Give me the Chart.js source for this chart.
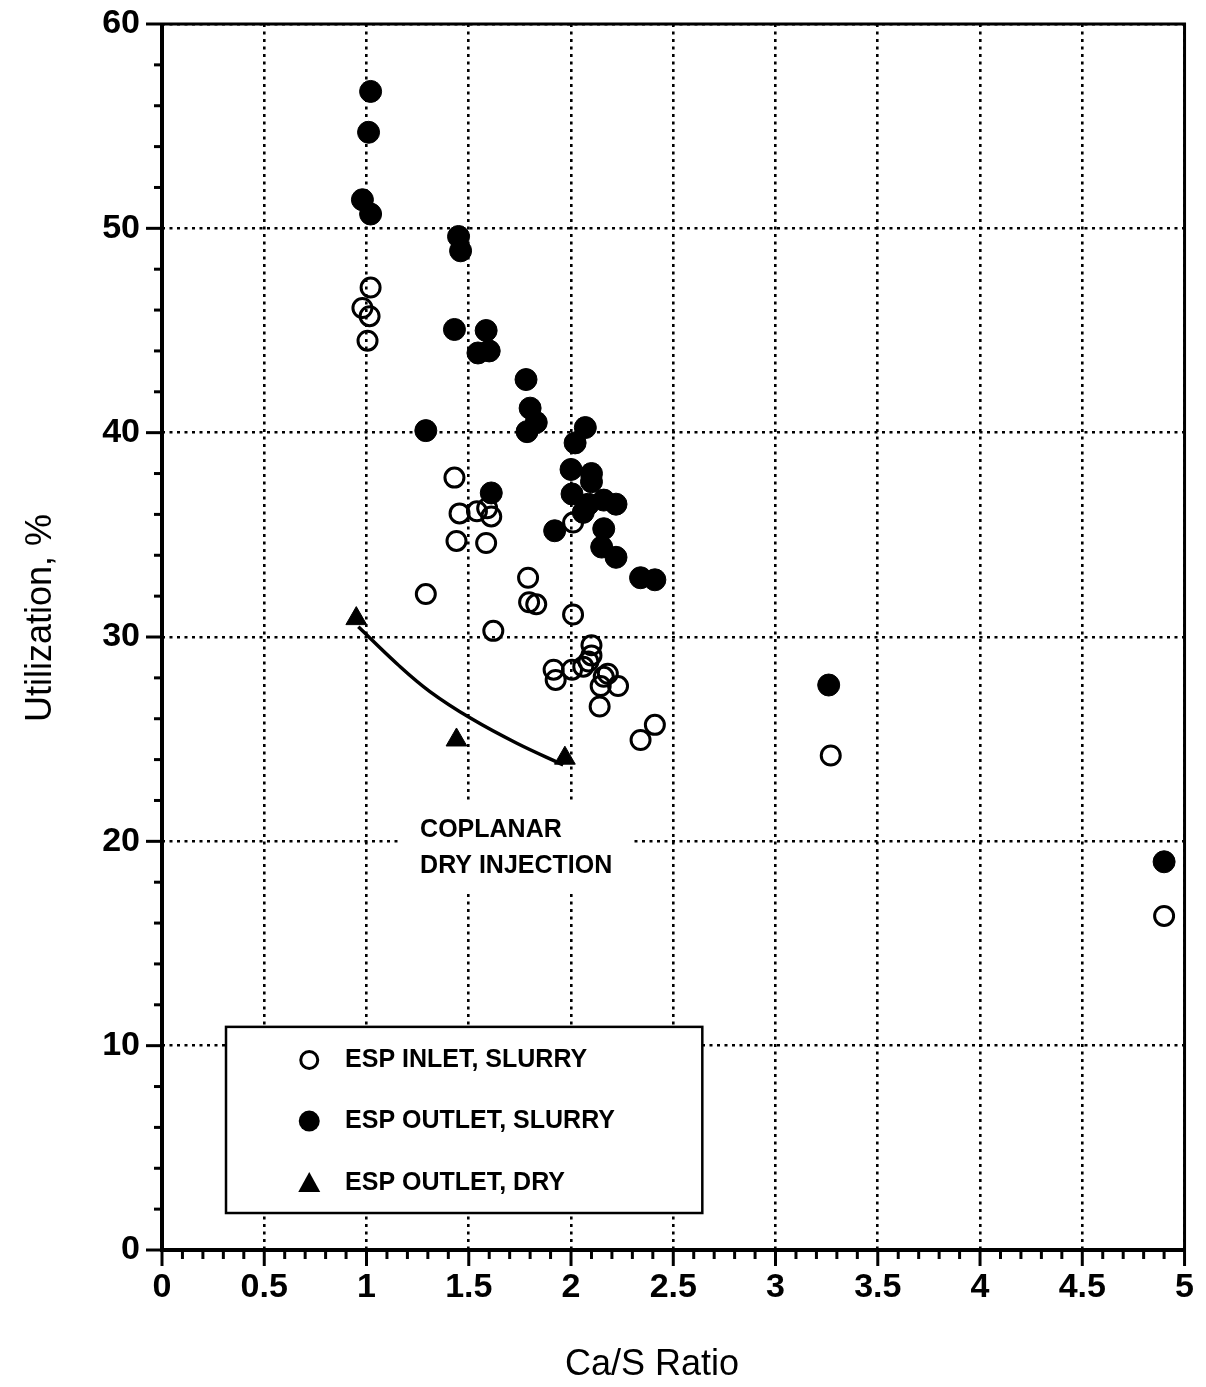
<!DOCTYPE html>
<html>
<head>
<meta charset="utf-8">
<title>Utilization vs Ca/S Ratio</title>
<script src="https://cdn.jsdelivr.net/npm/chart.js@4.4.0/dist/chart.umd.min.js"></script>
<style>
    html, body { margin: 0; padding: 0; background: #fff; }
    #wrap { width: 1206px; height: 1387px; position: relative; }
</style>
</head>
<body>
<div id="wrap"><canvas id="myChart"></canvas></div>
<script>
///////////////////////////////////////////////////////////////////////////
//////////////////////////  DATOS  ////////////////////////////////////////
///////////////////////////////////////////////////////////////////////////

// ESP inlet, slurry (open circles)
const inletX = [1.02, 0.98, 1.015, 1.005, 1.43, 1.455, 1.54, 1.61, 1.59, 1.44, 1.585, 1.29, 1.79, 1.795, 1.83, 2.01, 1.62, 2.01,
    2.10, 2.10, 1.915, 1.925, 2.005, 2.06, 2.085, 2.18, 2.16, 2.145, 2.23, 2.14, 2.41, 2.34, 3.27, 4.90];
const inletY = [47.1, 46.1, 45.7, 44.5, 37.8, 36.05, 36.15, 35.9, 36.3, 34.7, 34.6, 32.1, 32.9, 31.7, 31.6, 31.1, 30.3, 35.6,
    29.6, 29.1, 28.4, 27.9, 28.4, 28.55, 28.8, 28.2, 28.05, 27.6, 27.6, 26.6, 25.7, 24.96, 24.2, 16.35];

// ESP outlet, slurry (filled circles)
const outletX = [1.02, 1.01, 0.98, 1.02, 1.45, 1.46, 1.43, 1.585, 1.545, 1.60, 1.29, 1.78, 1.80, 1.83, 1.785, 1.61, 2.07, 2.02,
    2.00, 2.10, 2.10, 2.005, 2.085, 2.16, 2.22, 2.06, 1.92, 2.16, 2.15, 2.22, 2.34, 2.41, 3.26, 4.90];
const outletY = [56.7, 54.7, 51.4, 50.7, 49.6, 48.9, 45.05, 45.0, 43.9, 44.0, 40.1, 42.6, 41.2, 40.5, 40.05, 37.05, 40.25, 39.5,
    38.2, 38.0, 37.6, 37.0, 36.5, 36.7, 36.5, 36.1, 35.2, 35.3, 34.4, 33.9, 32.9, 32.8, 27.65, 19.0];

// ESP outlet, dry (triangles)
const dryX = [0.95, 1.44, 1.97];
const dryY = [30.9, 24.96, 24.07];

// coplanar dry injection curve
const curveX = [0.96, 1.15, 1.31, 1.51, 1.735, 1.962];
const curveY = [30.5, 28.68, 27.33, 26.02, 24.8, 23.74];

const seriesNames = ['ESP INLET, SLURRY', 'ESP OUTLET, SLURRY', 'ESP OUTLET, DRY'];
const noteLines = ['COPLANAR', 'DRY INJECTION'];
const xTitle = 'Ca/S Ratio';
const yTitle = 'Utilization, %';

function toPoints(xs, ys) {
    return xs.map(function (x, i) { return { x: x, y: ys[i] }; });
}

///////////////////////////////////////////////////////////////////////////
//////////////////////////  PLUGIN (marco, leyenda, texto)  //////////////
///////////////////////////////////////////////////////////////////////////

const frame = {
    id: 'frame',
    beforeDatasetsDraw(chart) {
        const ctx = chart.ctx, x = chart.scales.x, y = chart.scales.y;
        ctx.save();
        ctx.fillStyle = '#fff';
        // blank behind the note text
        ctx.fillRect(x.getPixelForValue(1.165), y.getPixelForValue(22.0),
            x.getPixelForValue(2.30) - x.getPixelForValue(1.165), y.getPixelForValue(17.5) - y.getPixelForValue(22.0));
        // legend box
        ctx.fillRect(x.getPixelForValue(0.313), y.getPixelForValue(10.92),
            x.getPixelForValue(2.642) - x.getPixelForValue(0.313), y.getPixelForValue(1.81) - y.getPixelForValue(10.92));
        ctx.restore();
    },
    afterDraw(chart) {
        const ctx = chart.ctx, x = chart.scales.x, y = chart.scales.y;
        const a = chart.chartArea;
        ctx.save();
        ctx.strokeStyle = '#000';
        ctx.fillStyle = '#000';

        // minor / major ticks
        ctx.lineWidth = 3;
        for (let i = 0; i <= 50; i++) {
            const px = x.getPixelForValue(i / 10);
            const len = (i % 5 === 0) ? 16 : 9;
            ctx.beginPath(); ctx.moveTo(px, a.bottom); ctx.lineTo(px, a.bottom + len); ctx.stroke();
        }
        for (let i = 0; i <= 30; i++) {
            const py = y.getPixelForValue(i * 2);
            const len = (i % 5 === 0) ? 16 : 8;
            ctx.beginPath(); ctx.moveTo(a.left, py); ctx.lineTo(a.left - len, py); ctx.stroke();
        }

        // box
        ctx.lineWidth = 3;
        ctx.beginPath(); ctx.moveTo(a.left, a.top); ctx.lineTo(a.right, a.top); ctx.lineTo(a.right, a.bottom); ctx.stroke();
        ctx.lineWidth = 4;
        ctx.beginPath(); ctx.moveTo(a.left, a.top - 1); ctx.lineTo(a.left, a.bottom); ctx.lineTo(a.right + 1, a.bottom); ctx.stroke();

        // legend
        const lx0 = x.getPixelForValue(0.313), lx1 = x.getPixelForValue(2.642);
        const ly0 = y.getPixelForValue(10.92), ly1 = y.getPixelForValue(1.81);
        ctx.lineWidth = 2.5;
        ctx.strokeRect(lx0, ly0, lx1 - lx0, ly1 - ly0);
        const mx = x.getPixelForValue(0.72), tx = x.getPixelForValue(0.895);
        const rows = [9.3, 6.31, 3.28].map(function (v) { return y.getPixelForValue(v); });
        ctx.lineWidth = 3;
        ctx.beginPath(); ctx.arc(mx, rows[0], 8.5, 0, Math.PI * 2); ctx.stroke();
        ctx.beginPath(); ctx.arc(mx, rows[1], 10.5, 0, Math.PI * 2); ctx.fill();
        ctx.beginPath(); ctx.moveTo(mx, rows[2] - 11); ctx.lineTo(mx + 11, rows[2] + 9); ctx.lineTo(mx - 11, rows[2] + 9); ctx.closePath(); ctx.fill();
        ctx.font = 'bold 25px "Liberation Sans", Arial, sans-serif';
        ctx.textBaseline = 'middle';
        ctx.textAlign = 'left';
        seriesNames.forEach(function (s, i) { ctx.fillText(s, tx, rows[i]); });

        // note
        const nx = x.getPixelForValue(1.262);
        ctx.fillText(noteLines[0], nx, y.getPixelForValue(20.56));
        ctx.fillText(noteLines[1], nx, y.getPixelForValue(18.8));

        // axis titles
        ctx.font = '36px "Liberation Sans", Arial, sans-serif';
        ctx.textAlign = 'center';
        ctx.fillText(xTitle, 652, 1365);
        ctx.translate(41, 618);
        ctx.rotate(-Math.PI / 2);
        ctx.fillText(yTitle, 0, 0);
        ctx.restore();
    }
};

///////////////////////////////////////////////////////////////////////////
//////////////////////////  GRÁFICO  //////////////////////////////////////
///////////////////////////////////////////////////////////////////////////

const tickFont = { family: '"Liberation Sans", Arial, sans-serif', size: 34, weight: 'bold', lineHeight: 1.5 };
const yTickFont = { family: '"Liberation Sans", Arial, sans-serif', size: 34, weight: 'bold', lineHeight: 0.1 };

const chartConfig = {
    type: 'scatter',
    data: {
        datasets: [
            {
                label: seriesNames[0],
                data: toPoints(inletX, inletY),
                pointStyle: 'circle',
                pointRadius: 9.5,
                borderWidth: 3,
                borderColor: '#000',
                backgroundColor: 'rgba(0,0,0,0)'
            },
            {
                label: seriesNames[1],
                data: toPoints(outletX, outletY),
                pointStyle: 'circle',
                pointRadius: 11,
                borderWidth: 1,
                borderColor: '#000',
                backgroundColor: '#000'
            },
            {
                label: seriesNames[2],
                data: toPoints(dryX, dryY),
                pointStyle: 'triangle',
                pointRadius: 12,
                borderWidth: 1,
                borderColor: '#000',
                backgroundColor: '#000'
            },
            {
                label: 'curve',
                data: toPoints(curveX, curveY),
                showLine: true,
                pointRadius: 0,
                borderWidth: 3.5,
                borderColor: '#000',
                tension: 0.4
            }
        ]
    },
    options: {
        responsive: true,
        maintainAspectRatio: false,
        animation: false,
        layout: { padding: { top: 24, right: 2, left: 0, bottom: 0 } },
        plugins: {
            legend: { display: false },
            tooltip: { enabled: false }
        },
        scales: {
            x: {
                type: 'linear',
                min: 0,
                max: 5,
                afterFit: function (s) { s.height = 137; },
                ticks: {
                    stepSize: 0.5, color: '#000', font: tickFont, padding: 12, maxRotation: 0, autoSkip: false,
                    callback: function (v) { return String(+Number(v).toFixed(1)); }
                },
                grid: { color: '#000', lineWidth: 2.6, drawTicks: false },
                border: { display: false, dash: [3, 4.5] }
            },
            y: {
                min: 0,
                max: 60,
                afterFit: function (s) { s.width = 162; },
                ticks: { stepSize: 10, color: '#000', font: yTickFont, padding: 22 },
                grid: { color: '#000', lineWidth: 2.6, drawTicks: false },
                border: { display: false, dash: [3, 4.5] }
            }
        }
    },
    plugins: [frame]
};

const myChart = new Chart(document.getElementById('myChart'), chartConfig);
</script>
</body>
</html>
